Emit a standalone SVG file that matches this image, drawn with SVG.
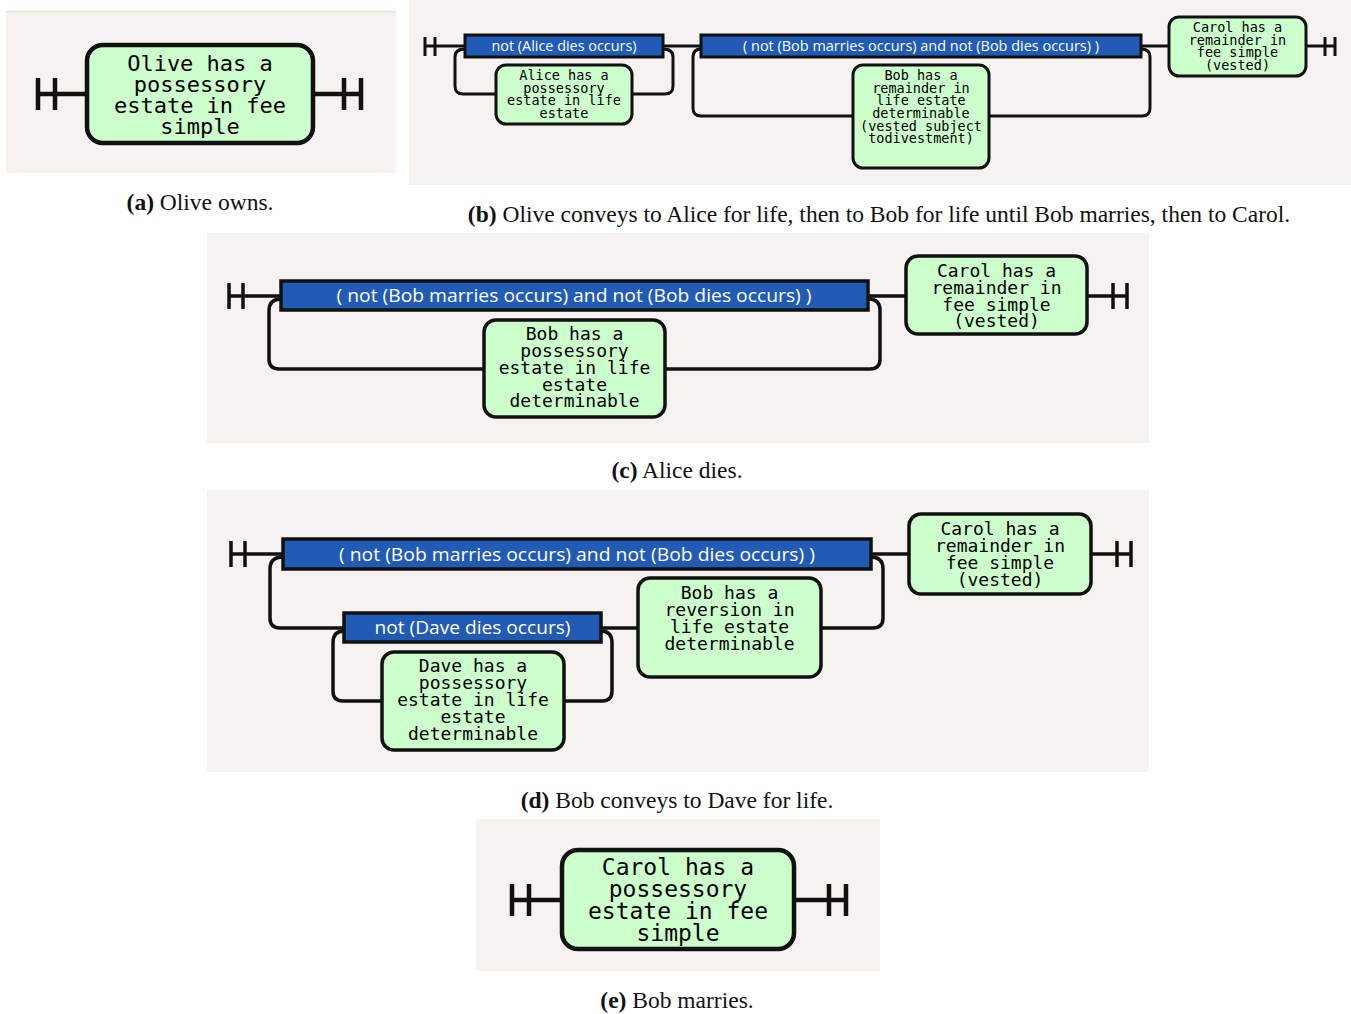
<svg xmlns="http://www.w3.org/2000/svg" width="1351" height="1014" viewBox="0 0 1351 1014">
<style>
.bg{fill:#f5f2ef}
.box{fill:#ccffcc;stroke:#111;}
.bar{fill:#215bb5;stroke:#111;}
.ln{fill:none;stroke:#111;stroke-linejoin:round}
.mono{font-family:"DejaVu Sans Mono",monospace;fill:#000;text-anchor:middle}
.bt{font-family:"Open Sans","Noto Sans",sans-serif;fill:#fff;text-anchor:middle}
.cap{font-family:"Liberation Serif",serif;font-size:23.5px;fill:#111;text-anchor:middle}
.cap .b{font-weight:bold}
</style>
<rect width="1351" height="1014" fill="#fff"/>
<!-- panel backgrounds -->
<rect class="bg" x="6" y="12" width="390" height="161"/>
<line x1="6" y1="11.5" x2="396" y2="11.5" stroke="#dcead6" stroke-width="1.5"/>
<rect class="bg" x="409" y="0" width="942" height="185"/>
<rect class="bg" x="207" y="233" width="942" height="210"/>
<rect class="bg" x="207" y="490" width="942" height="282"/>
<rect class="bg" x="476" y="819" width="404" height="152"/>

<g id="connectors">
  <!-- (a) -->
  <g class="ln" stroke-width="4.5">
    <path d="M38 94 H87 M38 78 V110 M55 78 V110"/>
    <path d="M313 94 H362 M344 78 V110 M361 78 V110"/>
  </g>
  <!-- (b) -->
  <g class="ln" stroke-width="3">
    <path d="M425 46 H465 M425 37 V56 M435 37 V56"/>
    <path d="M465 49 Q455 49 455 57 V86 Q455 94 463 94 H496"/>
    <path d="M632 94 H665 Q673 94 673 86 V57 Q673 49 663 49"/>
    <path d="M663 46 H701"/>
    <path d="M701 49 Q693 49 693 57 V108 Q693 116 701 116 H853"/>
    <path d="M989 116 H1142 Q1150 116 1150 108 V57 Q1150 49 1141 49"/>
    <path d="M1141 46 H1169"/>
    <path d="M1306 46 H1336 M1325 37 V56 M1335 37 V56"/>
  </g>
  <!-- (c) -->
  <g class="ln" stroke-width="3.5">
    <path d="M229 296 H281 M229 283 V309 M243 283 V309"/>
    <path d="M281 299 Q269 299 269 311 V359 Q269 369 279 369 H484"/>
    <path d="M665 369 H870 Q880 369 880 359 V310 Q880 299 868 299"/>
    <path d="M868 296 H906"/>
    <path d="M1087 296 H1127 M1113 283 V309 M1127 283 V309"/>
  </g>
  <!-- (d) -->
  <g class="ln" stroke-width="3.5">
    <path d="M231 554 H283 M231 541 V567 M245 541 V567"/>
    <path d="M283 557 Q270 557 270 569 V618 Q270 628 280 628 H344"/>
    <path d="M821 628 H873 Q883 628 883 618 V569 Q883 557 871 557"/>
    <path d="M601 628 H638"/>
    <path d="M344 631 Q333 631 333 643 V691 Q333 701 343 701 H382"/>
    <path d="M564 701 H602 Q612 701 612 691 V643 Q612 631 601 631"/>
    <path d="M871 554 H909"/>
    <path d="M1091 554 H1131 M1117 541 V567 M1131 541 V567"/>
  </g>
  <!-- (e) -->
  <g class="ln" stroke-width="4.5">
    <path d="M512 900 H562 M512 884 V916 M529 884 V916"/>
    <path d="M794 900 H846 M829 884 V916 M846 884 V916"/>
  </g>
</g>

<!-- (a) -->
<g id="a-olive">
  <rect class="box" x="87" y="45" width="226" height="98" rx="16" stroke-width="4.5"/>
  <text class="mono" font-size="22"><tspan x="200" y="71">Olive has a</tspan><tspan x="200" y="92">possessory</tspan><tspan x="200" y="113">estate in fee</tspan><tspan x="200" y="134">simple</tspan></text>
</g>
<text class="cap" x="200" y="210"><tspan class="b">(a)</tspan> Olive owns.</text>

<!-- (b) -->
<g id="b-alice-cond">
  <rect class="bar" x="465" y="35" width="198" height="22" stroke-width="3"/>
  <text class="bt" x="564" y="51" font-size="14" textLength="145" lengthAdjust="spacingAndGlyphs">not (Alice dies occurs)</text>
</g>
<g id="b-alice">
  <rect class="box" x="496" y="65" width="136" height="59" rx="10" stroke-width="3"/>
  <text class="mono" font-size="13.5"><tspan x="564" y="80">Alice has a</tspan><tspan x="564" y="92.7">possessory</tspan><tspan x="564" y="105.4">estate in life</tspan><tspan x="564" y="118">estate</tspan></text>
</g>
<g id="b-bob-cond">
  <rect class="bar" x="701" y="35" width="440" height="22" stroke-width="3"/>
  <text class="bt" x="921" y="51" font-size="14" textLength="356" lengthAdjust="spacingAndGlyphs">( not (Bob marries occurs) and not (Bob dies occurs) )</text>
</g>
<g id="b-bob">
  <rect class="box" x="853" y="65" width="136" height="103" rx="10" stroke-width="3"/>
  <text class="mono" font-size="13.5"><tspan x="921" y="80">Bob has a</tspan><tspan x="921" y="92.7">remainder in</tspan><tspan x="921" y="105.4">life estate</tspan><tspan x="921" y="118">determinable</tspan><tspan x="921" y="130.7">(vested subject</tspan><tspan x="921" y="143.4">todivestment)</tspan></text>
</g>
<g id="b-carol">
  <rect class="box" x="1169" y="17" width="137" height="59" rx="10" stroke-width="3"/>
  <text class="mono" font-size="13.5"><tspan x="1237.5" y="32">Carol has a</tspan><tspan x="1237.5" y="44.7">remainder in</tspan><tspan x="1237.5" y="57.4">fee simple</tspan><tspan x="1237.5" y="70">(vested)</tspan></text>
</g>
<text class="cap" x="879" y="222"><tspan class="b">(b)</tspan> Olive conveys to Alice for life, then to Bob for life until Bob marries, then to Carol.</text>

<!-- (c) -->
<g id="c-bob-cond">
  <rect class="bar" x="281" y="281" width="587" height="29" stroke-width="3.5"/>
  <text class="bt" x="574" y="302" font-size="19" textLength="475" lengthAdjust="spacingAndGlyphs">( not (Bob marries occurs) and not (Bob dies occurs) )</text>
</g>
<g id="c-bob">
  <rect class="box" x="484" y="320" width="181" height="97" rx="12" stroke-width="3.5"/>
  <text class="mono" font-size="18"><tspan x="574.5" y="340">Bob has a</tspan><tspan x="574.5" y="357">possessory</tspan><tspan x="574.5" y="374">estate in life</tspan><tspan x="574.5" y="390.5">estate</tspan><tspan x="574.5" y="407">determinable</tspan></text>
</g>
<g id="c-carol">
  <rect class="box" x="906" y="256" width="181" height="78" rx="12" stroke-width="3.5"/>
  <text class="mono" font-size="18"><tspan x="996.5" y="277">Carol has a</tspan><tspan x="996.5" y="294">remainder in</tspan><tspan x="996.5" y="310.5">fee simple</tspan><tspan x="996.5" y="326.5">(vested)</tspan></text>
</g>
<text class="cap" x="677" y="478"><tspan class="b">(c)</tspan> Alice dies.</text>

<!-- (d) -->
<g id="d-bob-cond">
  <rect class="bar" x="283" y="539" width="588" height="30" stroke-width="3.5"/>
  <text class="bt" x="577" y="561" font-size="19" textLength="476" lengthAdjust="spacingAndGlyphs">( not (Bob marries occurs) and not (Bob dies occurs) )</text>
</g>
<g id="d-dave-cond">
  <rect class="bar" x="344" y="613" width="257" height="29" stroke-width="3.5"/>
  <text class="bt" x="472.5" y="634" font-size="19" textLength="196" lengthAdjust="spacingAndGlyphs">not (Dave dies occurs)</text>
</g>
<g id="d-dave">
  <rect class="box" x="382" y="652" width="182" height="98" rx="12" stroke-width="3.5"/>
  <text class="mono" font-size="18"><tspan x="473" y="672">Dave has a</tspan><tspan x="473" y="689">possessory</tspan><tspan x="473" y="706">estate in life</tspan><tspan x="473" y="723">estate</tspan><tspan x="473" y="740">determinable</tspan></text>
</g>
<g id="d-bob">
  <rect class="box" x="638" y="578" width="183" height="99" rx="12" stroke-width="3.5"/>
  <text class="mono" font-size="18"><tspan x="729.5" y="599">Bob has a</tspan><tspan x="729.5" y="616">reversion in</tspan><tspan x="729.5" y="633">life estate</tspan><tspan x="729.5" y="649.5">determinable</tspan></text>
</g>
<g id="d-carol">
  <rect class="box" x="909" y="514" width="182" height="80" rx="12" stroke-width="3.5"/>
  <text class="mono" font-size="18"><tspan x="1000" y="535">Carol has a</tspan><tspan x="1000" y="552">remainder in</tspan><tspan x="1000" y="569">fee simple</tspan><tspan x="1000" y="585.5">(vested)</tspan></text>
</g>
<text class="cap" x="677" y="808"><tspan class="b">(d)</tspan> Bob conveys to Dave for life.</text>

<!-- (e) -->
<g id="e-carol">
  <rect class="box" x="562" y="850" width="232" height="99" rx="16" stroke-width="4.5"/>
  <text class="mono" font-size="23"><tspan x="678" y="875">Carol has a</tspan><tspan x="678" y="897">possessory</tspan><tspan x="678" y="919">estate in fee</tspan><tspan x="678" y="941">simple</tspan></text>
</g>
<text class="cap" x="677" y="1008"><tspan class="b">(e)</tspan> Bob marries.</text>
</svg>
